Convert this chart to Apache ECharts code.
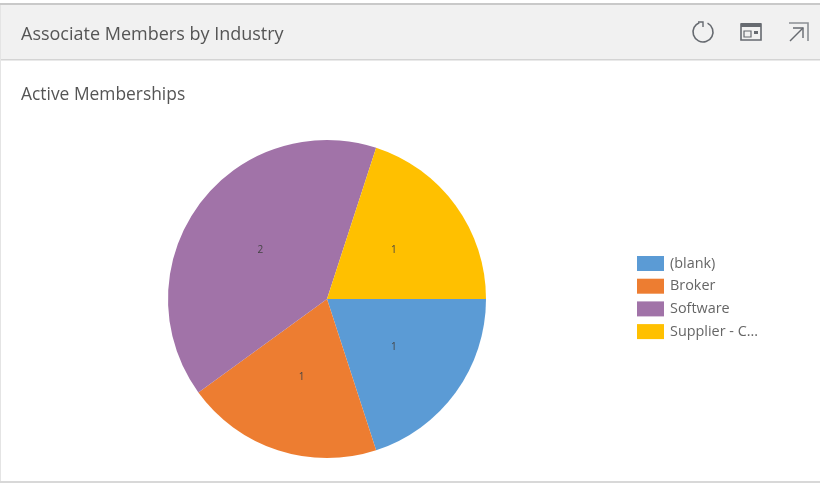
<!DOCTYPE html>
<html>
<head>
<meta charset="utf-8">
<style>
  html, body { margin: 0; padding: 0; background: #fff; }
  #chart { width: 820px; height: 483px; }
</style>
<script src="https://cdn.jsdelivr.net/npm/echarts@6/dist/echarts.min.js"></script>
</head>
<body>
<div id="chart"></div>
<script>
const panelTitle = 'Associate Members by Industry';
const chartTitle = 'Active Memberships';
const categories = ['(blank)', 'Broker', 'Software', 'Supplier - C...'];
const memberCounts = [1, 1, 2, 1];
const sliceColors = ['#5B9BD5', '#ED7D31', '#A173A8', '#FFC000'];
const fontStack = '"Open Sans", "Noto Sans", sans-serif';

const chart = echarts.init(document.getElementById('chart'), null, { renderer: 'canvas' });
const iconStroke = { stroke: '#666a70', lineWidth: 1.6, fill: 'none' };

chart.setOption({
  animation: false,
  backgroundColor: '#ffffff',
  color: sliceColors,
  title: [
    { text: panelTitle, left: 21, top: 26, padding: 0, textStyle: { fontFamily: fontStack, fontSize: 18, fontWeight: 'normal', color: '#555555' } },
    { text: chartTitle, left: 21, top: 87, padding: 0, textStyle: { fontFamily: fontStack, fontSize: 17.4, fontWeight: 'normal', color: '#555555' } }
  ],
  legend: {
    orient: 'vertical',
    left: 637,
    top: 256,
    padding: 0,
    icon: 'rect',
    itemWidth: 27,
    itemHeight: 15,
    itemGap: 7.7,
    selectedMode: false,
    textStyle: { fontFamily: fontStack, fontSize: 14.4, color: '#666666', padding: [1, 0, 0, 1] },
    data: categories
  },
  series: [{
    type: 'pie',
    center: [327, 299],
    radius: [0, 159],
    startAngle: 0,
    clockwise: true,
    silent: true,
    label: {
      position: 'inside',
      formatter: '{c}',
      fontFamily: fontStack,
      fontSize: 10,
      color: '#444444'
    },
    labelLine: { show: false },
    itemStyle: { borderWidth: 0 },
    data: categories.map((name, i) => ({ name, value: memberCounts[i] }))
  }],
  graphic: [
    // Panel frame and header band, kept behind the chart
    { type: 'rect', z: -10, shape: { x: 0, y: 3, width: 820, height: 2 }, style: { fill: '#c9c9c9' } },
    { type: 'rect', z: -10, shape: { x: 0, y: 5, width: 820, height: 54 }, style: { fill: '#f1f1f1' } },
    { type: 'rect', z: -10, shape: { x: 0, y: 59, width: 820, height: 1.5 }, style: { fill: '#d4d4d4' } },
    { type: 'rect', z: -10, shape: { x: 0, y: 5, width: 1, height: 478 }, style: { fill: '#e4e4e4' } },
    { type: 'rect', z: -10, shape: { x: 0, y: 481, width: 820, height: 2 }, style: { fill: '#d8d8d8' } },

    // Refresh icon
    { type: 'arc', shape: { cx: 703, cy: 32, r: 10, startAngle: -Math.PI * 0.35, endAngle: -Math.PI * 0.62, clockwise: true }, style: iconStroke },
    { type: 'polyline', shape: { points: [[698, 22], [703, 22], [703, 27]] }, style: { stroke: '#666a70', lineWidth: 1.4, fill: 'none' } },

    // Calendar-style view icon
    { type: 'rect', shape: { x: 741, y: 24, width: 20, height: 16 }, style: iconStroke },
    { type: 'rect', shape: { x: 741, y: 23, width: 20, height: 4 }, style: { fill: '#666a70' } },
    { type: 'rect', shape: { x: 744, y: 31, width: 7, height: 6 }, style: { stroke: '#666a70', lineWidth: 1.2, fill: 'none' } },
    { type: 'rect', shape: { x: 754, y: 31, width: 4, height: 3 }, style: { fill: '#666a70' } },

    // Expand icon
    { type: 'polyline', shape: { points: [[789, 23], [808, 23], [808, 41]] }, style: { stroke: '#8b8f94', lineWidth: 1.6, fill: 'none' } },
    { type: 'polyline', shape: { points: [[790, 41], [803, 28]] }, style: { stroke: '#666a70', lineWidth: 1.4, fill: 'none' } },
    { type: 'polyline', shape: { points: [[793, 28], [803, 28], [803, 38]] }, style: { stroke: '#666a70', lineWidth: 1.4, fill: 'none' } }
  ]
});
</script>
</body>
</html>
